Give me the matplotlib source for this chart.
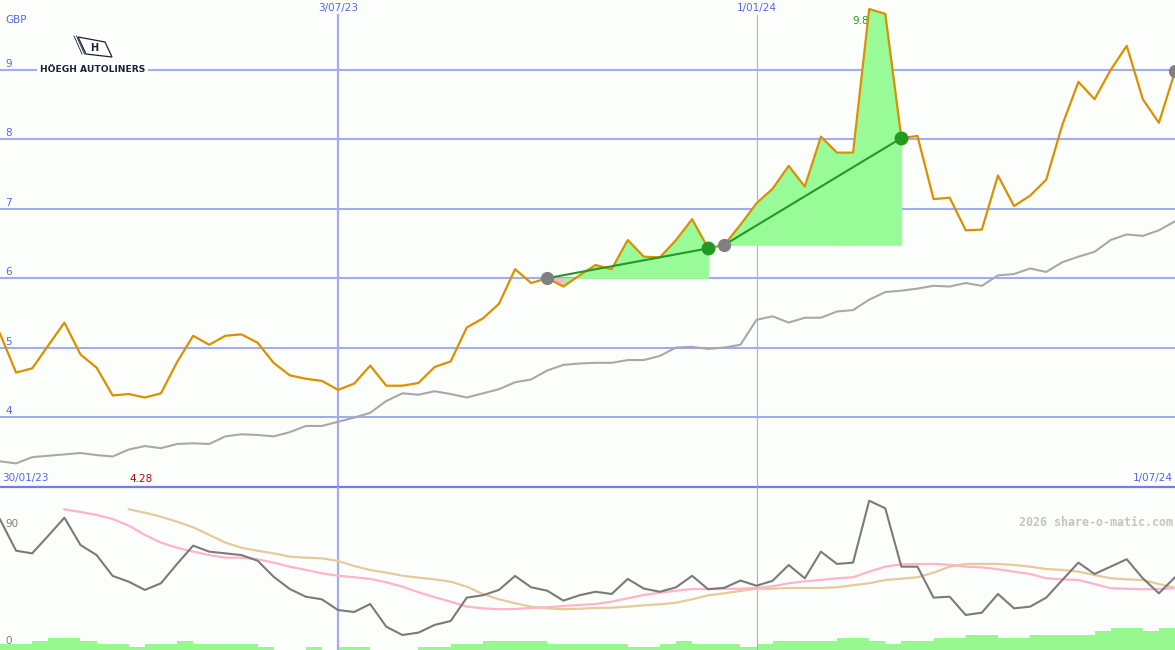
import matplotlib.pyplot as plt
from matplotlib.patches import Polygon
from matplotlib.lines import Line2D
import numpy as np

# weekly closing price (GBP), 74 weeks
price = [5.20, 4.64, 4.70, 5.03, 5.36, 4.90, 4.71, 4.31, 4.33, 4.28,
         4.34, 4.79, 5.17, 5.04, 5.17, 5.19, 5.07, 4.78, 4.60, 4.55,
         4.52, 4.39, 4.48, 4.74, 4.45, 4.45, 4.49, 4.72, 4.80, 5.29,
         5.42, 5.63, 6.13, 5.93, 6.00, 5.88, 6.04, 6.19, 6.13, 6.55,
         6.31, 6.30, 6.55, 6.85, 6.43, 6.48, 6.77, 7.08, 7.29, 7.62,
         7.32, 8.04, 7.81, 7.81, 9.88, 9.81, 8.02, 8.05, 7.14, 7.16,
         6.69, 6.70, 7.48, 7.04, 7.19, 7.42, 8.21, 8.83, 8.58, 9.00,
         9.35, 8.58, 8.24, 8.98]

# market index rebased to the share price
bench = [3.36, 3.33, 3.42, 3.44, 3.46, 3.48, 3.45, 3.43, 3.53, 3.58,
         3.55, 3.61, 3.62, 3.61, 3.72, 3.75, 3.74, 3.72, 3.78, 3.87,
         3.87, 3.93, 3.99, 4.06, 4.23, 4.34, 4.32, 4.37, 4.33, 4.28,
         4.34, 4.40, 4.50, 4.54, 4.67, 4.75, 4.77, 4.78, 4.78, 4.82,
         4.82, 4.88, 5.00, 5.01, 4.98, 5.00, 5.04, 5.40, 5.45, 5.36,
         5.43, 5.43, 5.52, 5.54, 5.69, 5.80, 5.82, 5.85, 5.89, 5.88,
         5.93, 5.89, 6.04, 6.06, 6.14, 6.09, 6.23, 6.31, 6.38, 6.55,
         6.63, 6.61, 6.69, 6.82]

# lower panel oscillator and its two averages
osc = [98.0, 74.0, 72.0, 85.5, 99.3, 78.4, 70.7, 54.7, 50.3, 44.0,
       49.1, 63.9, 77.9, 73.3, 72.0, 70.7, 66.4, 54.1, 44.7, 38.8,
       36.8, 28.6, 27.1, 33.2, 15.8, 9.5, 11.3, 17.2, 20.2, 38.1,
       39.9, 44.0, 54.7, 46.0, 43.4, 35.8, 39.9, 42.6, 40.9, 52.4,
       45.0, 42.6, 46.0, 54.8, 44.5, 45.6, 51.2, 47.2, 51.0, 63.1,
       52.9, 73.3, 63.9, 64.9, 112.3, 106.5, 61.8, 61.8, 38.1, 38.8,
       24.8, 26.6, 40.9, 29.9, 31.2, 38.1, 51.6, 64.9, 56.2, 61.8,
       67.5, 52.9, 41.4, 53.7]

ma_short = [np.nan] * 4 + [
    105.7, 103.7, 101.4, 98.3, 93.2, 86.1, 80.2, 76.3, 73.3, 70.7,
    68.7, 68.7, 67.5, 64.9, 61.8, 59.3, 56.7, 54.9, 53.7, 52.4, 49.8,
    46.5, 42.2, 38.4, 35.0, 31.2, 29.9, 29.2, 29.4, 30.2, 30.7, 31.7,
    32.5, 33.2, 35.0, 37.6, 40.1, 41.9, 43.4, 44.7, 44.7, 44.9, 44.9,
    45.5, 46.8, 49.1, 50.6, 51.6, 52.9, 53.7, 58.0, 61.8, 63.6, 63.9,
    63.9, 63.3, 61.8, 61.3, 59.8, 58.0, 56.2, 52.9, 52.1, 51.6, 48.5,
    45.3, 44.9, 44.5, 44.7, 45.3]

ma_long = [np.nan] * 8 + [
    105.7, 103.1, 100.1, 96.2, 92.0, 86.1, 80.2, 76.3, 74.0, 72.0,
    69.5, 68.7, 68.2, 66.2, 62.3, 59.3, 57.2,
    54.9, 53.4, 52.1, 50.3, 46.5, 40.9, 36.8, 33.8, 31.2, 29.9, 29.2,
    29.6, 30.2, 30.4, 31.2, 32.2, 33.0, 34.2, 36.8, 39.9, 41.4, 43.2,
    44.9, 44.9, 45.5, 45.5, 45.5, 46.0, 47.6, 49.1, 51.6, 52.6, 53.7,
    57.2, 61.8, 63.9, 63.9, 63.9, 63.1, 61.8, 60.0, 59.3, 58.0, 55.4,
    52.9, 52.1, 51.6, 48.5, 45.7]

volume = [2, 2, 3, 4, 4, 3, 2, 2, 1, 2, 2, 3, 2, 2, 2, 2, 1, 0, 0, 1,
          0, 1, 1, 0, 0, 0, 1, 1, 2, 2, 3, 3, 3, 3, 2, 2, 2, 2, 2, 1,
          1, 2, 3, 2, 2, 2, 1, 2, 3, 3, 3, 3, 4, 4, 3, 2, 3, 3, 4, 4,
          5, 5, 4, 4, 5, 5, 5, 5, 6, 7, 7, 6, 7]

price_ticks = [4, 5, 6, 7, 8, 9]
osc_ticks = [0, 90]
date_pos = [21, 47]
date_labels = ['3/07/23', '1/01/24']
start_label = '30/01/23'
end_label = '1/07/24'
trend_start = [34, 45]
trend_end = [44, 56]

BG = '#fcfefc'
GRID = '#a4acf0'
BLUE = '#5566ee'
ORANGE = '#dc9000'
FILL_UP = '#98fb98'
FILL_DN = '#ffb6c1'
TREND = '#229a22'

W, H = 1175, 650
fig = plt.figure(figsize=(W / 100, H / 100), dpi=100)
fig.patch.set_facecolor(BG)

ax = fig.add_axes([0, 163 / H, 1, 487 / H])
axv = fig.add_axes([0, 0, 1, 163 / H])
axo = axv.twinx()

for a in (ax, axv, axo):
    a.set_xticks([])
    a.set_yticks([])
    for s in a.spines.values():
        s.set_visible(False)
ax.set_facecolor(BG)
axv.set_facecolor(BG)

x = np.arange(len(price))
n = len(price) - 1

# ---- price panel
ax.set_xlim(0, n)
ax.set_ylim(2.99, 10.01)
for v in price_ticks:
    ax.axhline(v, color=GRID, lw=1.5, zorder=1)
    ax.annotate(str(v), xy=(0, v), xycoords=('axes fraction', 'data'),
                xytext=(5, 3), textcoords='offset pixels', va='baseline',
                color=BLUE, fontsize=7.5)
top = 1 - 15 / 487
ax.axvline(date_pos[0], ymax=top, color=GRID, lw=1.6, zorder=1)
ax.axvline(date_pos[1], ymax=top, color=GRID, lw=0.8, zorder=1)
for p, lab in zip(date_pos, date_labels):
    ax.text(p, 1 - 8 / 487, lab, transform=ax.get_xaxis_transform(),
            ha='center', va='center', color=BLUE, fontsize=7.5)
ax.text(0.002, 8.5 / 487, start_label, transform=ax.transAxes,
        ha='left', va='center', color=BLUE, fontsize=7.5)
ax.text(0.998, 8.5 / 487, end_label, transform=ax.transAxes,
        ha='right', va='center', color=BLUE, fontsize=7.5)
ax.annotate('GBP', xy=(0, 1), xycoords='axes fraction', xytext=(5, -20),
            textcoords='offset pixels', va='center', color=BLUE, fontsize=7.5)

imin = int(np.argmin(price))
imax = int(np.argmax(price))
ax.annotate(f'{price[imin]:.2f}', xy=(imin, 0), xycoords=('data', 'axes fraction'),
            xytext=(-4, 8.5), textcoords='offset pixels', ha='center',
            va='center', color='#a01010', fontsize=7.5)
ax.annotate(f'{price[imax]:.2f}', xy=(imax, price[imax]), xytext=(-17, -12),
            textcoords='offset pixels', ha='left', va='center',
            color=TREND, fontsize=7.5, zorder=1.5)

ax.plot(x, bench, color='#a8a8a8', lw=1.5, zorder=3)

for s, e in zip(trend_start, trend_end):
    base = price[s]
    for i in range(s, e):
        c = FILL_UP if price[i + 1] >= base else FILL_DN
        ax.fill_between([i, i + 1], base, [price[i], price[i + 1]],
                        color=c, lw=0.5, zorder=2)
    ax.plot([s, e], [price[s], price[e]], color=TREND, lw=1.5, zorder=5)

ax.plot(x, price, color=ORANGE, lw=1.6, zorder=4)
ax.plot(trend_start + [n], [price[i] for i in trend_start] + [price[n]],
        'o', color='#808080', ms=8.5, zorder=6)
ax.plot(trend_end, [price[i] for i in trend_end], 'o', color=TREND,
        ms=9, zorder=6)

# logo
def px(xp, yp):
    return (xp / W, 1 - yp / H)

fig.text(*px(92.5, 70), 'HÖEGH AUTOLINERS', ha='center', va='center',
         fontsize=6.6, fontweight='bold', color='#1c2233',
         bbox=dict(facecolor=BG, edgecolor='none', pad=2.2), zorder=10)
flag = Polygon([px(78, 37), px(105, 42), px(112, 57), px(86, 54)],
               closed=True, facecolor='white', edgecolor='#1c2233',
               lw=0.9, transform=fig.transFigure, zorder=10)
fig.add_artist(flag)
for d in (0, 2.5):
    fig.add_artist(Line2D([px(74 + d, 36)[0], px(82 + d, 54)[0]],
                          [px(74 + d, 36)[1], px(82 + d, 54)[1]],
                          color='#1c2233', lw=0.6, zorder=10))
fig.text(*px(94, 48), 'H', ha='center', va='center', fontsize=7,
         fontweight='bold', color='#1c2233', zorder=11)

# ---- lower panel
axv.set_xlim(0, n)
axv.set_ylim(0, 163 / 3.1)
axv.bar(np.arange(len(volume)), volume, width=1, align='edge',
        color='#98f890', lw=0, zorder=1)
axv.spines['top'].set_visible(True)
axv.spines['top'].set_color('#6f7fe6')
axv.spines['top'].set_linewidth(1.6)

axo.set_ylim(-2, 122.8)
axo.axvline(date_pos[0], color=GRID, lw=1.6, zorder=1)
axo.axvline(date_pos[1], color=GRID, lw=0.8, zorder=1)
axo.plot(x, ma_long, color='#e6cb9a', lw=1.6, zorder=2)
axo.plot(x, ma_short, color='#ffb4c8', lw=1.6, zorder=2)
axo.plot(x, osc, color='#7a7a7a', lw=1.5, zorder=3)
for v in osc_ticks:
    axo.annotate(str(v), xy=(0, v), xycoords=('axes fraction', 'data'),
                 xytext=(5, 3), textcoords='offset pixels', va='baseline',
                 color='#808080', fontsize=7.5)
axo.text(0.998, (650 - 523) / 163, '2026 share-o-matic.com',
         transform=axo.transAxes, ha='right', va='center',
         color='#c4c4c4', fontsize=8.4, fontweight='bold',
         family='DejaVu Sans Mono')

fig.savefig('out.png', dpi=100, facecolor=BG)
